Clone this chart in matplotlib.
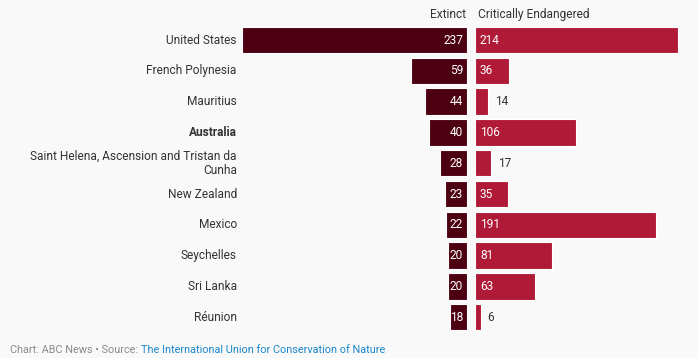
import numpy as np
import matplotlib.pyplot as plt

plt.rcParams['font.family'] = ['Roboto', 'DejaVu Sans']

countries = ["United States", "French Polynesia", "Mauritius", "Australia",
             "Saint Helena, Ascension and Tristan da\nCunha", "New Zealand",
             "Mexico", "Seychelles", "Sri Lanka", "Réunion"]
extinct = [237, 59, 44, 40, 28, 23, 22, 20, 20, 18]
endangered = [214, 36, 14, 106, 17, 35, 191, 81, 63, 6]

BG = "#f9f9f9"
C_EXT = "#4d0011"
C_END = "#b11a37"
TXT = "#333333"

fig = plt.figure(figsize=(6.98, 3.58), dpi=100, facecolor=BG)
ax = fig.add_axes([0, 0, 1, 1])
ax.set_facecolor(BG)

# scale: ~0.95 px per species, zero of extinct side at x=467px
px = 0.95
gap = 8 / px
ax.set_xlim(-467 / px, (698 - 467) / px)
row = 30.8
ax.set_ylim((358 - 40) / row, -40 / row)
ax.axis("off")

y = np.arange(len(countries))
ax.barh(y, [-v for v in extinct], left=0, height=0.86, color=C_EXT,
        edgecolor="white", linewidth=0.8)
ax.barh(y, endangered, left=gap, height=0.86, color=C_END,
        edgecolor="white", linewidth=0.8)

fs = 8.6
label_x = -max(extinct) - 5 / px
for i, name in enumerate(countries):
    ax.text(label_x, i, name, ha="right", va="center", multialignment="right",
            fontsize=fs, color=TXT,
            fontweight="bold" if name == "Australia" else "normal",
            linespacing=1.1)
    ax.text(-4 / px, i, str(extinct[i]), ha="right", va="center",
            fontsize=fs, color="white")
    v = endangered[i]
    if v >= 30:
        ax.text(gap + 5 / px, i, str(v), ha="left", va="center",
                fontsize=fs, color="white")
    else:
        ax.text(gap + v + 7 / px, i, str(v), ha="left", va="center",
                fontsize=fs, color=TXT)

ax.text(-1 / px, -0.83, "Extinct", ha="right", va="center", fontsize=fs,
        color=TXT)
ax.text(gap + 3 / px, -0.83, "Critically Endangered", ha="left", va="center",
        fontsize=fs, color=TXT)

t1 = fig.text(10 / 698, 1 - 353 / 358, "Chart: ABC News \u2022 Source: ",
              fontsize=7.8, color="#8a8a8a", va="baseline")
ax.annotate("The International Union for Conservation of Nature",
            xy=(1, 0), xycoords=t1, va="bottom", ha="left",
            fontsize=7.8, color="#1b87c9")

fig.savefig("out.png", dpi=100, facecolor=BG)
